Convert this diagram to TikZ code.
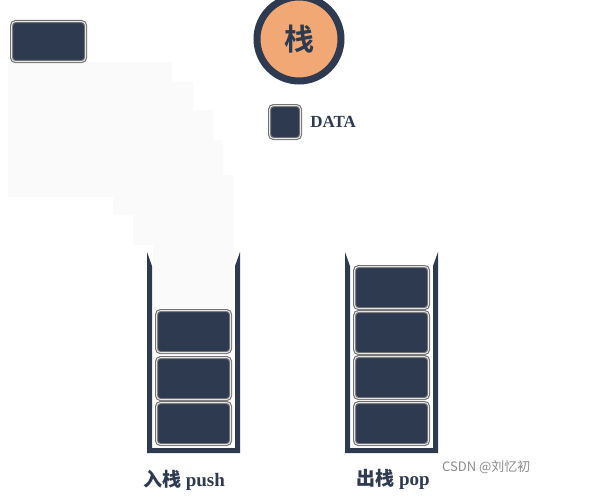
\documentclass[tikz,border=0pt]{standalone}
\usepackage{fontspec}
\setmainfont{Liberation Serif}
\newfontfamily\cjk{Noto Sans CJK SC}
\newfontfamily\cjkb{Noto Sans CJK SC Bold}
\definecolor{boxdark}{HTML}{2E3A4F}
\definecolor{peach}{HTML}{F2A874}
\definecolor{ghost}{HTML}{FAFAFA}
\tikzset{
  databox/.style={rectangle, rounded corners=4pt, fill=boxdark, draw=black!55, double=white!90!black,
    double distance=0.9pt, line width=1.1pt, inner sep=0pt},
  wall/.style={fill=boxdark, draw=none},
  lbl/.style={font=\fontsize{19}{21}\selectfont\bfseries, text=boxdark, inner sep=0pt}
}
\begin{document}
\begin{tikzpicture}[x=1pt,y=-1pt]
\useasboundingbox (0,0) rectangle (599,495);
% ghost trail
\fill[ghost] (8,62) -- (172,62) -- (172,82) -- (193,82) -- (193,110) -- (213,110) -- (213,140)
  -- (223,140) -- (223,175) -- (233,175) -- (233,310) -- (153,310) -- (153,245) -- (133,245)
  -- (133,215) -- (113,215) -- (113,197) -- (8,197) -- cycle;
% top-left box
\node[databox, minimum width=74pt, minimum height=40pt, anchor=north west] (moving) at (11,21) {};
% title circle
\node[circle, fill=peach, draw=boxdark, line width=7pt, minimum size=84pt, inner sep=0pt,
  font=\cjkb\fontsize{30}{32}\selectfont, text=boxdark] (title) at (299,39) {栈};
% legend
\node[databox, minimum width=31pt, minimum height=33pt, anchor=north west] (legend) at (269,105) {};
\node[lbl, anchor=west, font=\fontsize{17}{19}\selectfont\bfseries] (legendtxt) at ([xshift=9pt]legend.east) {DATA};
% left container
\fill[wall] (147,252) -- (147,453) -- (240,453) -- (240,252) -- (235,266) -- (235,448)
  -- (152,448) -- (152,266) -- cycle;
% right container
\fill[wall] (345,252) -- (345,453) -- (438,453) -- (438,252) -- (433,266) -- (433,448)
  -- (350,448) -- (350,266) -- cycle;
% left stack boxes
\foreach \n/\y in {l1/310, l2/357, l3/402} {
  \node[databox, minimum width=74pt, minimum height=42pt, anchor=north west] (\n) at (156,\y) {};
}
% right stack boxes
\foreach \n/\y in {r1/266, r2/311, r3/356, r4/402} {
  \node[databox, minimum width=74pt, minimum height=42pt, anchor=north west] (\n) at (354,\y) {};
}
% labels
\node[lbl] (pushlbl) at (184,480) {{\cjk 入栈} push};
\node[lbl] (poplbl) at (393,479) {{\cjk 出栈} pop};
% watermark
\node[font=\cjk\fontsize{13}{15}\selectfont, text=black!45, anchor=west, inner sep=0pt] (wm) at (442,467) {CSDN @刘忆初};
\end{tikzpicture}
\end{document}
